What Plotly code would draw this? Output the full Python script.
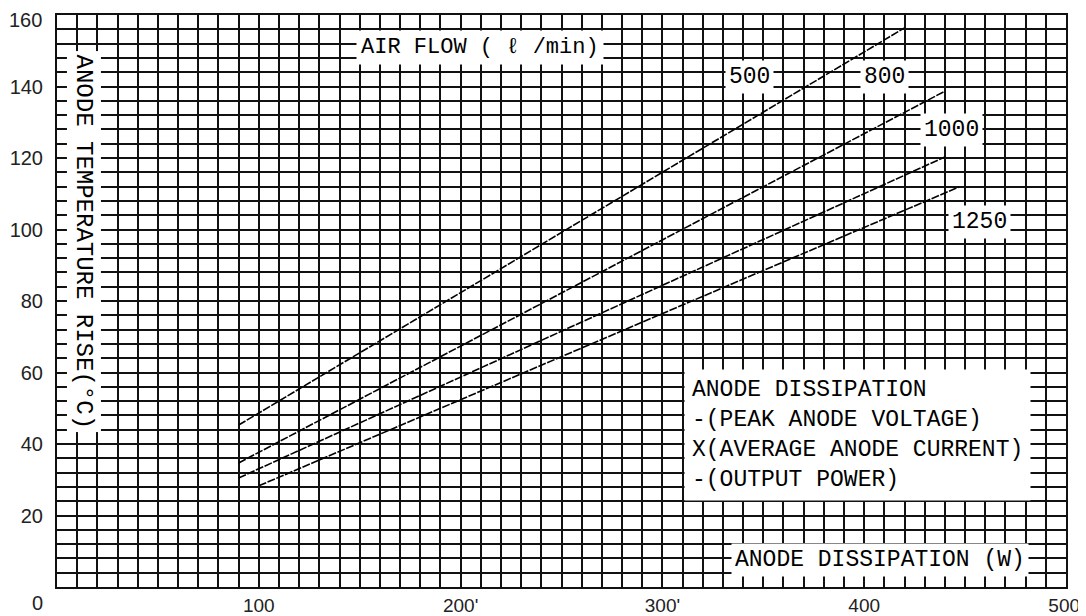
import plotly.graph_objects as go

# ---- data ----
airflow = ["500", "800", "1000", "1250"]
x_start = [90, 90, 90, 100]
y_start = [45.3, 34.7, 30.5, 28.3]
x_end = [420, 440, 440, 447]
y_end = [156.4, 138.7, 120.3, 111.9]

x_tickvals = [100, 200, 300, 400, 500]
x_ticktext = ["100", "200'", "300'", "400", "500'"]
y_tickvals = [20, 40, 60, 80, 100, 120, 140]
y_ticktext = [str(v) for v in y_tickvals]
y_top_label = "160"      # drawn just inside the top edge, like the reference
origin_label = "0"

# label positions for each air-flow curve (data coords)
label_x = [343, 410, 443.5, 457]
label_y = [142.7, 142.7, 127.8, 102]

MONO = "Liberation Mono"
TICKFONT = dict(family="Liberation Sans", size=20, color="#222")
fig = go.Figure()

for i, name in enumerate(airflow):
    fig.add_trace(go.Scatter(
        x=[x_start[i], x_end[i]], y=[y_start[i], y_end[i]],
        mode="lines", name=name, showlegend=False,
        line=dict(color="black", width=1.6, dash="8px,1.5px"),
    ))

annots = []
for i, name in enumerate(airflow):
    annots.append(dict(x=label_x[i], y=label_y[i], xref="x", yref="y", text=name,
                       showarrow=False, bgcolor="white", borderpad=3,
                       font=dict(family=MONO, size=23, color="black")))

annots.append(dict(x=209.6, y=151, xref="x", yref="y", text="AIR FLOW ( ℓ /min)",
                   showarrow=False, bgcolor="white", borderpad=4,
                   font=dict(family=MONO, size=22, color="black")))
annots.append(dict(x=408, y=7.6, xref="x", yref="y", text="ANODE DISSIPATION (W)",
                   showarrow=False, bgcolor="white", borderpad=3,
                   font=dict(family=MONO, size=23, color="black")))
annots.append(dict(x=13.6, y=96.5, xref="x", yref="y", text="ANODE TEMPERATURE RISE(°C)",
                   showarrow=False, bgcolor="white", textangle=90, borderpad=3,
                   font=dict(family=MONO, size=24, color="black")))
annots.append(dict(x=310.8, y=42.4, xref="x", yref="y", xanchor="left", align="left",
                   text="ANODE DISSIPATION<br>-(PEAK ANODE VOLTAGE)<br>X(AVERAGE ANODE CURRENT)<br>-(OUTPUT POWER)",
                   showarrow=False, bgcolor="white", borderpad=7,
                   font=dict(family=MONO, size=23, color="black")))
annots.append(dict(x=0, y=0, xref="x", yref="y", text=origin_label, showarrow=False,
                   xshift=-20, yshift=-16, font=TICKFONT))
annots.append(dict(x=0, y=160, xref="x", yref="y", text=y_top_label, showarrow=False,
                   xanchor="right", xshift=-13, yshift=-5, font=TICKFONT))

grid_w = 1.8
# the page body has an 8px margin, so the figure is sized/offset to compensate
fig.update_layout(
    width=1078, height=608,
    margin=dict(l=49, r=20, t=7, b=29),
    paper_bgcolor="white", plot_bgcolor="white",
    template="none",
    annotations=annots,
    xaxis=dict(range=[0, 500], tickvals=x_tickvals, ticktext=x_ticktext,
               showgrid=True, gridcolor="#111", gridwidth=grid_w,
               minor=dict(tick0=0, dtick=10, showgrid=True, gridcolor="#111", gridwidth=grid_w),
               showline=True, linecolor="#111", linewidth=2, mirror=True,
               zeroline=False, ticks="", ticklen=0, ticklabelstandoff=0,
               ticklabeloverflow="allow", automargin=False,
               tickfont=dict(family="Liberation Sans", size=19, color="#222")),
    yaxis=dict(range=[0, 160], tickvals=y_tickvals, ticktext=y_ticktext,
               showgrid=True, gridcolor="#111", gridwidth=grid_w,
               minor=dict(tick0=0, dtick=4, showgrid=True, gridcolor="#111", gridwidth=grid_w),
               showline=True, linecolor="#111", linewidth=2, mirror=True,
               zeroline=False, ticks="", ticklen=0, ticklabelstandoff=8,
               ticklabeloverflow="allow", automargin=False,
               tickfont=TICKFONT),
)

fig.write_html("out.html")
